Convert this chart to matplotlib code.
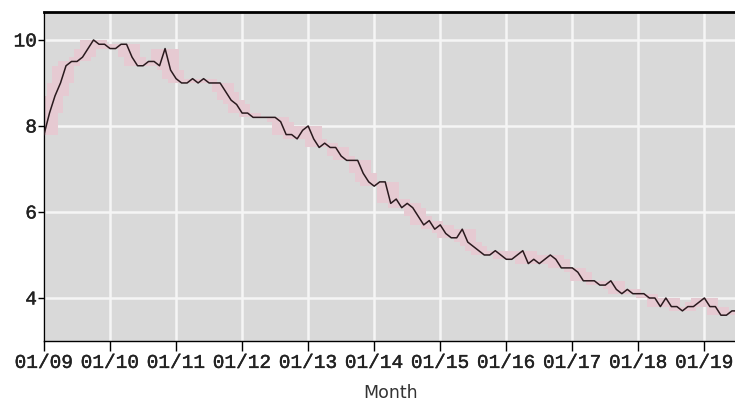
import numpy as np
import pandas as pd
import matplotlib
matplotlib.use('Agg')
import matplotlib.pyplot as plt
import matplotlib.patheffects as pe

# monthly rate, Jan 2009 onwards
rate_2009 = [7.8, 8.3, 8.7, 9.0, 9.4, 9.5, 9.5, 9.6, 9.8, 10.0, 9.9, 9.9]
rate_2010 = [9.8, 9.8, 9.9, 9.9, 9.6, 9.4, 9.4, 9.5, 9.5, 9.4, 9.8, 9.3]
rate_2011 = [9.1, 9.0, 9.0, 9.1, 9.0, 9.1, 9.0, 9.0, 9.0, 8.8, 8.6, 8.5]
rate_2012 = [8.3, 8.3, 8.2, 8.2, 8.2, 8.2, 8.2, 8.1, 7.8, 7.8, 7.7, 7.9]
rate_2013 = [8.0, 7.7, 7.5, 7.6, 7.5, 7.5, 7.3, 7.2, 7.2, 7.2, 6.9, 6.7]
rate_2014 = [6.6, 6.7, 6.7, 6.2, 6.3, 6.1, 6.2, 6.1, 5.9, 5.7, 5.8, 5.6]
rate_2015 = [5.7, 5.5, 5.4, 5.4, 5.6, 5.3, 5.2, 5.1, 5.0, 5.0, 5.1, 5.0]
rate_2016 = [4.9, 4.9, 5.0, 5.1, 4.8, 4.9, 4.8, 4.9, 5.0, 4.9, 4.7, 4.7]
rate_2017 = [4.7, 4.6, 4.4, 4.4, 4.4, 4.3, 4.3, 4.4, 4.2, 4.1, 4.2, 4.1]
rate_2018 = [4.1, 4.1, 4.0, 4.0, 3.8, 4.0, 3.8, 3.8, 3.7, 3.8, 3.8, 3.9]
rate_2019 = [4.0, 3.8, 3.8, 3.6, 3.6, 3.7, 3.7]

tick_years = list(range(2009, 2020))
tick_labels = ['01/09', '01/10', '01/11', '01/12', '01/13', '01/14',
               '01/15', '01/16', '01/17', '01/18', '01/19']
y_ticks = [4, 6, 8, 10]

rate = (rate_2009 + rate_2010 + rate_2011 + rate_2012 + rate_2013 + rate_2014
        + rate_2015 + rate_2016 + rate_2017 + rate_2018 + rate_2019)
x = 2009 + np.arange(len(rate)) / 12.0

s = pd.Series(rate)
lo = s.rolling(5, center=True, min_periods=1).min()
hi = s.rolling(5, center=True, min_periods=1).max()

fig = plt.figure(figsize=(7.35, 4.04), dpi=100)
ax = fig.add_axes([44/735, 1 - 341/404, 1 - 44/735 + 0.002, (341 - 12)/404])
ax.set_facecolor('#d9d9d9')

ax.fill_between(x, lo, hi, step='mid', color='#e6cad2', lw=0, zorder=1)
ax.plot(x, rate, color='#2a1a1e', lw=1.1, zorder=3)

thick = [pe.withStroke(linewidth=0.3, foreground='#222222')]

ax.set_xlim(2009, 2009 + (735 - 44) / 65.9)
ax.set_ylim(3.0, 10.65)
ax.set_xticks(tick_years)
ax.set_xticklabels(tick_labels, fontfamily='Liberation Mono', fontsize=14,
                   color='#222222', path_effects=thick)
ax.set_yticks(y_ticks)
ax.set_yticklabels([str(v) for v in y_ticks], fontfamily='Liberation Mono',
                   fontsize=14, color='#222222', path_effects=thick)
ax.tick_params(axis='x', direction='out', length=7, width=1, color='black', pad=3)
ax.tick_params(axis='y', direction='out', length=4, width=1, color='black', pad=1)
ax.grid(True, color='#f5f5f5', lw=1.8, zorder=0)
ax.set_axisbelow(True)

for side in ['left', 'bottom']:
    ax.spines[side].set_color('black')
    ax.spines[side].set_linewidth(1)
ax.spines['top'].set_linewidth(2)
ax.spines['right'].set_visible(False)

ax.set_xlabel('Month', fontsize=12.5, color='#333333', labelpad=9)

fig.savefig('out.png', dpi=100)
